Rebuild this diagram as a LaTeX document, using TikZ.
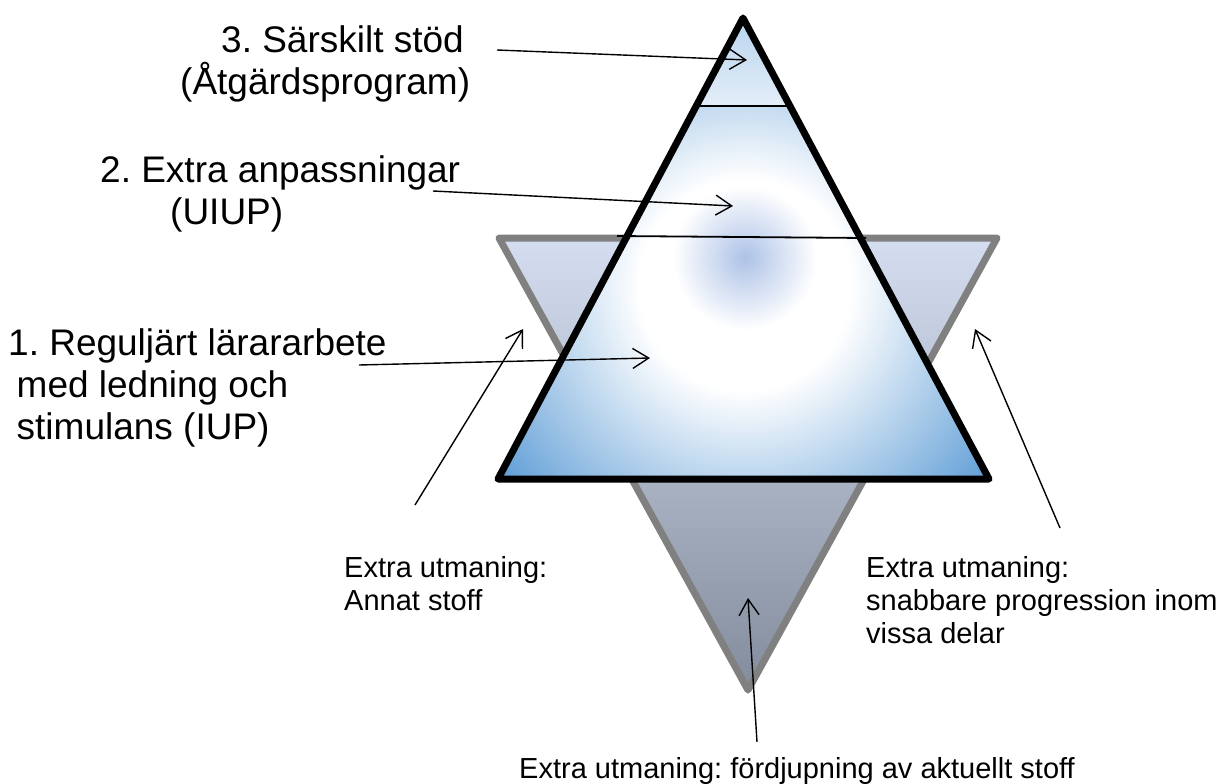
\documentclass[tikz,border=0pt]{standalone}
\usepackage{fontspec}
\setmainfont{Liberation Sans}
\usetikzlibrary{arrows.meta,calc}
\definecolor{pyrblue}{HTML}{5B9BD5}
\definecolor{glowcol}{HTML}{ADC2E7}
\definecolor{toptop}{HTML}{B9D4EE}
\definecolor{topbot}{HTML}{E3EEF8}
\definecolor{downtop}{HTML}{D5DEF0}
\definecolor{downbot}{HTML}{838C9C}
\definecolor{downedge}{HTML}{808080}
\pgfdeclareradialshading{pyrshade}{\pgfpoint{0bp}{0bp}}{color(0bp)=(white); color(8bp)=(white); color(24bp)=(pyrblue); color(50bp)=(pyrblue)}
\pgfdeclareradialshading{glowshade}{\pgfpoint{0bp}{0bp}}{color(0bp)=(glowcol); color(25bp)=(white); color(50bp)=(white)}
\frenchspacing
\begin{document}
\begin{tikzpicture}[x=1pt,y=-1pt,
  bigtext/.style={font=\fontsize{37}{42}\selectfont\frenchspacing, inner sep=0pt, align=left, anchor=base west},
  smalltext/.style={font=\fontsize{29}{33}\selectfont\frenchspacing, inner sep=0pt, align=left, anchor=base west},
  pointer/.style={line width=1.4pt, -{Straight Barb[length=16pt,width=20pt]}},
  thinline/.style={line width=1.8pt},
  upedge/.style={line width=7pt, line join=round},
  downedgestyle/.style={draw=downedge, line width=7pt, line join=round}]
\useasboundingbox (0,0) rectangle (1224,784);

% triangle corners
\coordinate (U) at (743,18);
\coordinate (UL) at (498,479);
\coordinate (UR) at (989,479);
\coordinate (DL) at (499,238);
\coordinate (DR) at (997,238);
\coordinate (D) at (748,690);
\coordinate (S1L) at ($(U)!0.1909!(UL)$);
\coordinate (S1R) at ($(U)!0.1909!(UR)$);
\coordinate (M1) at (617,236);
\coordinate (M2) at (866,238);

% downward triangle
\shade[top color=downtop, bottom color=downbot] (DL) -- (DR) -- (D) -- cycle;
\draw[downedgestyle] (DL) -- (DR) -- (D) -- cycle;

% upward triangle fills
\shade[top color=toptop, bottom color=topbot] (U) -- (S1R) -- (S1L) -- cycle;
\begin{scope}
  \clip (S1L) -- (S1R) -- (UR) -- (UL) -- cycle;
  \shade[shading=pyrshade] (415,-45) rectangle (1075,615);
  \shade[shading=glowshade] (745,258) circle (72);
\end{scope}
\draw[thinline] (S1L) -- (S1R);
\draw[thinline] (M1) -- (M2);
\draw[upedge] (U) -- (UR) -- (UL) -- cycle;

% labels
\node[bigtext] (l3) at (180,95) {\hspace*{41pt}3. Särskilt stöd\\(Åtgärdsprogram)};
\node[bigtext] (l2) at (100,224) {2. Extra anpassningar\\\hspace*{70pt}(UIUP)};
\node[bigtext] (l1) at (8,439) {1. Reguljärt lärararbete\\\hspace*{8.5pt}med ledning och\\\hspace*{8.5pt}stimulans (IUP)};
\node[smalltext] (tl) at (344,610) {Extra utmaning:\\Annat stoff};
\node[smalltext] (tr) at (866,643) {Extra utmaning:\\snabbare progression inom\\vissa delar};
\node[smalltext] (tb) at (519,778) {Extra utmaning: fördjupning av aktuellt stoff};

% arrows
\coordinate (a3s) at (497,50);  \coordinate (a3e) at (747,60);
\coordinate (a2s) at (433,191); \coordinate (a2e) at (733,206);
\coordinate (a1s) at (359,365); \coordinate (a1e) at (650,358);
\coordinate (als) at (415,505); \coordinate (ale) at (523,329);
\coordinate (ars) at (1060,528); \coordinate (are) at (975,329);
\coordinate (abs) at (757,742); \coordinate (abe) at (748,598);
\draw[pointer] (a3s) -- (a3e);
\draw[pointer] (a2s) -- (a2e);
\draw[pointer] (a1s) -- (a1e);
\draw[pointer] (als) -- (ale);
\draw[pointer] (ars) -- (are);
\draw[pointer] (abs) -- (abe);
\end{tikzpicture}
\end{document}
